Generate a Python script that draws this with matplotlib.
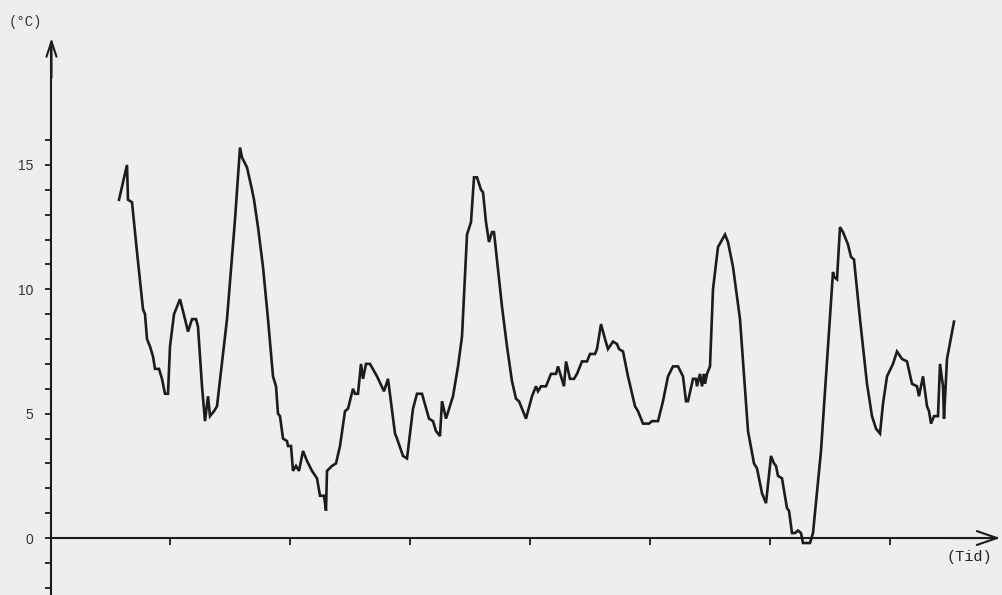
import matplotlib
matplotlib.use("Agg")
import matplotlib.pyplot as plt

# Tid (timer) og temperatur (grader C), aflæst fra kurven
tid = [13.8, 15.4, 15.6, 16.4, 17.4, 18.6, 19.0, 19.4, 20.0, 20.6, 21.0, 21.8, 22.4, 23.0, 23.6,
       24.0, 24.8, 26.0, 27.0, 27.6, 28.4, 29.2, 29.6, 30.4, 31.0, 31.6, 32.0, 32.8, 33.4,
       35.4, 37.0, 38.0, 38.4, 39.4, 40.4, 40.8, 41.6, 42.6, 43.6, 44.6, 45.2, 45.6, 46.0,
       46.6, 47.4, 47.6, 48.2, 48.6, 49.2, 49.8, 50.6, 51.4, 52.4, 53.4, 54.0, 54.8, 55.2,
       55.4, 56.4, 57.2, 58.0, 59.0, 59.6, 60.6, 61.0, 61.6, 62.2, 62.6, 63.2, 64.0, 65.4,
       66.8, 67.6, 69.0, 69.4, 70.6, 71.4, 72.6, 73.4, 74.4, 75.8, 76.6, 77.2, 78.0, 78.4,
       79.2, 80.6, 81.6, 82.4, 83.4, 84.2, 84.8, 85.4, 86.2, 86.6, 87.2, 87.8, 88.4, 88.8,
       90.4, 91.4, 92.4, 93.2, 93.8, 94.4, 95.2, 96.4, 97.2, 97.6, 98.2, 99.2, 100.2, 101.2,
       101.6, 102.2, 102.8, 103.2, 104.0, 104.8, 105.4, 106.4, 107.4, 108.0, 109.0, 109.4,
       110.2, 111.0, 111.6, 112.6, 113.4, 113.8, 114.6, 115.6, 117.0, 117.6, 118.6, 119.8,
       120.4, 121.6, 122.6, 123.6, 124.6, 125.6, 126.6, 127.2, 127.6, 128.6, 129.2, 129.4,
       130.0, 130.4, 130.8, 131.0, 131.4, 132.0, 132.6, 133.6, 135.0, 135.6, 136.6, 138.0,
       139.6, 140.8, 141.4, 142.4, 143.2, 144.2, 144.8, 145.2, 145.6, 146.4, 147.4, 147.8,
       148.4, 149.0, 149.6, 150.2, 150.6, 152.0, 152.6, 154.2, 156.6, 156.8, 157.4, 158.0,
       158.6, 159.6, 160.2, 160.8, 162.0, 163.4, 164.4, 165.2, 166.0, 166.6, 167.4, 168.6,
       169.4, 170.4, 171.4, 172.4, 173.4, 173.8, 174.6, 175.0, 175.4, 175.8, 176.2, 176.8,
       177.6, 178.0, 178.6, 178.8, 179.4, 180.8]
temp = [13.6, 15.0, 13.6, 13.5, 11.5, 9.2, 9.0, 8.0, 7.7, 7.3, 6.8, 6.8, 6.4, 5.8, 5.8,
        7.7, 9.0, 9.6, 8.8, 8.3, 8.8, 8.8, 8.5, 6.1, 4.7, 5.7, 4.9, 5.1, 5.3,
        8.8, 12.8, 15.7, 15.3, 14.9, 14.0, 13.6, 12.5, 10.9, 8.8, 6.5, 6.1, 5.0, 4.9,
        4.0, 3.9, 3.7, 3.7, 2.7, 2.9, 2.7, 3.5, 3.1, 2.7, 2.4, 1.7, 1.7, 1.1,
        2.7, 2.9, 3.0, 3.7, 5.1, 5.2, 6.0, 5.8, 5.8, 7.0, 6.4, 7.0, 7.0, 6.5,
        5.9, 6.4, 4.2, 4.0, 3.3, 3.2, 5.2, 5.8, 5.8, 4.8, 4.7, 4.3, 4.1, 5.5,
        4.8, 5.7, 6.9, 8.1, 12.2, 12.7, 14.5, 14.5, 14.0, 13.9, 12.7, 11.9, 12.3, 12.3,
        9.3, 7.7, 6.3, 5.6, 5.5, 5.2, 4.8, 5.7, 6.1, 5.9, 6.1, 6.1, 6.6, 6.6,
        6.9, 6.5, 6.1, 7.1, 6.4, 6.4, 6.6, 7.1, 7.1, 7.4, 7.4, 7.6,
        8.6, 8.0, 7.6, 7.9, 7.8, 7.6, 7.5, 6.5, 5.3, 5.1, 4.6, 4.6,
        4.7, 4.7, 5.5, 6.5, 6.9, 6.9, 6.5, 5.5, 5.5, 6.4, 6.4, 6.1,
        6.6, 6.1, 6.6, 6.2, 6.6, 6.9, 10.0, 11.7, 12.2, 11.9, 10.9, 8.8,
        4.3, 3.0, 2.8, 1.8, 1.4, 3.3, 3.0, 2.9, 2.5, 2.4, 1.2, 1.1,
        0.2, 0.2, 0.3, 0.2, -0.2, -0.2, 0.2, 3.5, 10.7, 10.5, 10.4, 12.5,
        12.3, 11.8, 11.3, 11.2, 8.8, 6.2, 4.9, 4.4, 4.2, 5.4, 6.5, 7.0,
        7.5, 7.2, 7.1, 6.2, 6.1, 5.7, 6.5, 5.9, 5.3, 5.1, 4.6, 4.9,
        4.9, 7.0, 6.1, 4.8, 7.2, 8.7]

y_labels = [0, 5, 10, 15]
y_minor = list(range(-2, 17))
x_ticks = [24, 48, 72, 96, 120, 144, 168]

bg = "#eeeeee"
ink = "#1c1c1c"

fig = plt.figure(figsize=(10.03, 5.95), dpi=100, facecolor=bg)
ax = fig.add_axes([0, 0, 1, 1], facecolor=bg)

ax.plot(tid, temp, color=ink, lw=1.9, solid_joinstyle="miter")

ax.set_xlim(-10.0, 190.6)
ax.set_ylim(-2.29, 21.63)

# akser i stil med den håndtegnede figur
for s in ["top", "right"]:
    ax.spines[s].set_visible(False)
ax.spines["left"].set_position(("data", 0.3))
ax.spines["bottom"].set_position(("data", 0))
ax.spines["left"].set_bounds(-2.29, 19.9)
ax.spines["bottom"].set_bounds(0.3, 189.5)
for s in ["left", "bottom"]:
    ax.spines[s].set_color(ink)
    ax.spines[s].set_linewidth(1.5)

ax.set_yticks(y_labels)
ax.set_yticklabels([str(v) for v in y_labels], fontsize=10, color="#333333",
                   family="Liberation Sans")
ax.set_yticks(y_minor, minor=True)
ax.tick_params(axis="y", which="both", direction="out", length=4, width=1.3,
               color=ink, pad=9)
ax.set_xticks(x_ticks)
ax.set_xticklabels([])
ax.tick_params(axis="x", which="both", direction="out", length=5, width=1.3, color=ink)

ax.annotate("", xy=(0.3, 20.1), xytext=(0.3, 18.5),
            arrowprops=dict(arrowstyle="->,head_length=0.55,head_width=0.18",
                            lw=1.5, color=ink, mutation_scale=20, shrinkA=0, shrinkB=0))
ax.annotate("", xy=(190.0, 0), xytext=(180, 0),
            arrowprops=dict(arrowstyle="->,head_length=0.72,head_width=0.25",
                            lw=1.5, color=ink, mutation_scale=20, shrinkA=0, shrinkB=0))

fig.text(0.009, 0.963, "(°C)", family="Liberation Mono", fontsize=10,
         color="#333333", va="center", ha="left")
fig.text(0.944, 0.064, "(Tid)", family="Liberation Mono", fontsize=11,
         color="#222222", va="center", ha="left")

fig.savefig("out.png", dpi=100, facecolor=bg)
